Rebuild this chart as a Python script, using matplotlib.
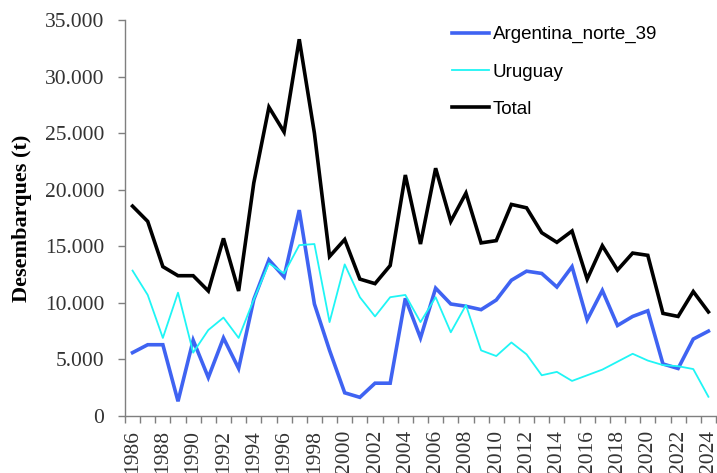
import matplotlib
matplotlib.use("Agg")
import matplotlib.pyplot as plt
from matplotlib.ticker import FuncFormatter, MultipleLocator

years = list(range(1986, 2025))
argentina = [5600, 6300, 6300, 1300, 6700, 3400, 6900, 4200, 10300, 13800,
             12300, 18200, 9900, 5800, 2050, 1650, 2900, 2900, 10400, 6900,
             11300, 9900, 9700, 9400, 10250, 12000, 12800, 12600, 11400, 13200,
             8500, 11100, 8000, 8800, 9300, 4600, 4200, 6800, 7500]
uruguay = [12850, 10700, 6900, 10900, 5600, 7600, 8700, 6900, 10300, 13500,
           12600, 15100, 15200, 8300, 13400, 10500, 8800, 10500, 10700, 8300,
           10500, 7400, 9800, 5800, 5300, 6500, 5450, 3600, 3900, 3100,
           3600, 4100, 4800, 5500, 4900, 4500, 4400, 4150, 1700]
total = [18550, 17200, 13200, 12400, 12400, 11050, 15700, 11050, 20600, 27300,
         25100, 33300, 25000, 14100, 15600, 12100, 11700, 13300, 21300, 15200,
         21900, 17200, 19700, 15300, 15500, 18700, 18400, 16200, 15350, 16350,
         12100, 15050, 12900, 14400, 14200, 9070, 8800, 11000, 9200]

fig = plt.figure(figsize=(7.17, 4.73), dpi=100)
ax = fig.add_axes([0.1743, 0.1205, 0.8243, 0.8372])

x = list(range(len(years)))
ax.plot(x, argentina, color="#3f63f2", lw=2.6, label="Argentina_norte_39", solid_joinstyle="miter")
ax.plot(x, uruguay, color="#1ff5f5", lw=1.3, label="Uruguay")
ax.plot(x, total, color="black", lw=2.6, label="Total", solid_joinstyle="miter")

ax.set_xlim(-0.5, len(years) - 0.5)
ax.set_ylim(0, 35000)
ax.yaxis.set_major_locator(MultipleLocator(5000))
ax.yaxis.set_major_formatter(FuncFormatter(lambda v, p: f"{int(v):,}".replace(",", ".")))

ax.set_xticks(x[::2])
ax.set_xticklabels([str(y) for y in years[::2]], rotation=90)
ax.set_xticks([i - 0.5 for i in range(len(years) + 1)], minor=True)
ax.tick_params(axis="x", which="major", length=0, pad=10)
ax.tick_params(axis="x", which="minor", length=5, direction="out", color="#7f7f7f", width=1)
ax.tick_params(axis="y", length=5, direction="out", color="#7f7f7f", width=1, pad=10)

for lab in ax.get_xticklabels() + ax.get_yticklabels():
    lab.set_fontfamily("Liberation Serif")
    lab.set_fontsize(15.5)
    lab.set_color("#333333")

ax.set_ylabel("Desembarques (t)", fontfamily="Liberation Serif", fontweight="bold", fontsize=16)
ax.yaxis.set_label_coords(-0.157, 0.5)

for s in ["top", "right"]:
    ax.spines[s].set_visible(False)
for s in ["left", "bottom"]:
    ax.spines[s].set_color("#7f7f7f")
    ax.spines[s].set_linewidth(1)

leg = ax.legend(loc="upper left", bbox_to_anchor=(0.553, 0.985), frameon=False,
                prop={"family": "Liberation Sans", "size": 13.5},
                borderaxespad=0, borderpad=0,
                handlelength=2.0, handletextpad=0.17, labelspacing=1.08)

fig.savefig("out.png", dpi=100)
